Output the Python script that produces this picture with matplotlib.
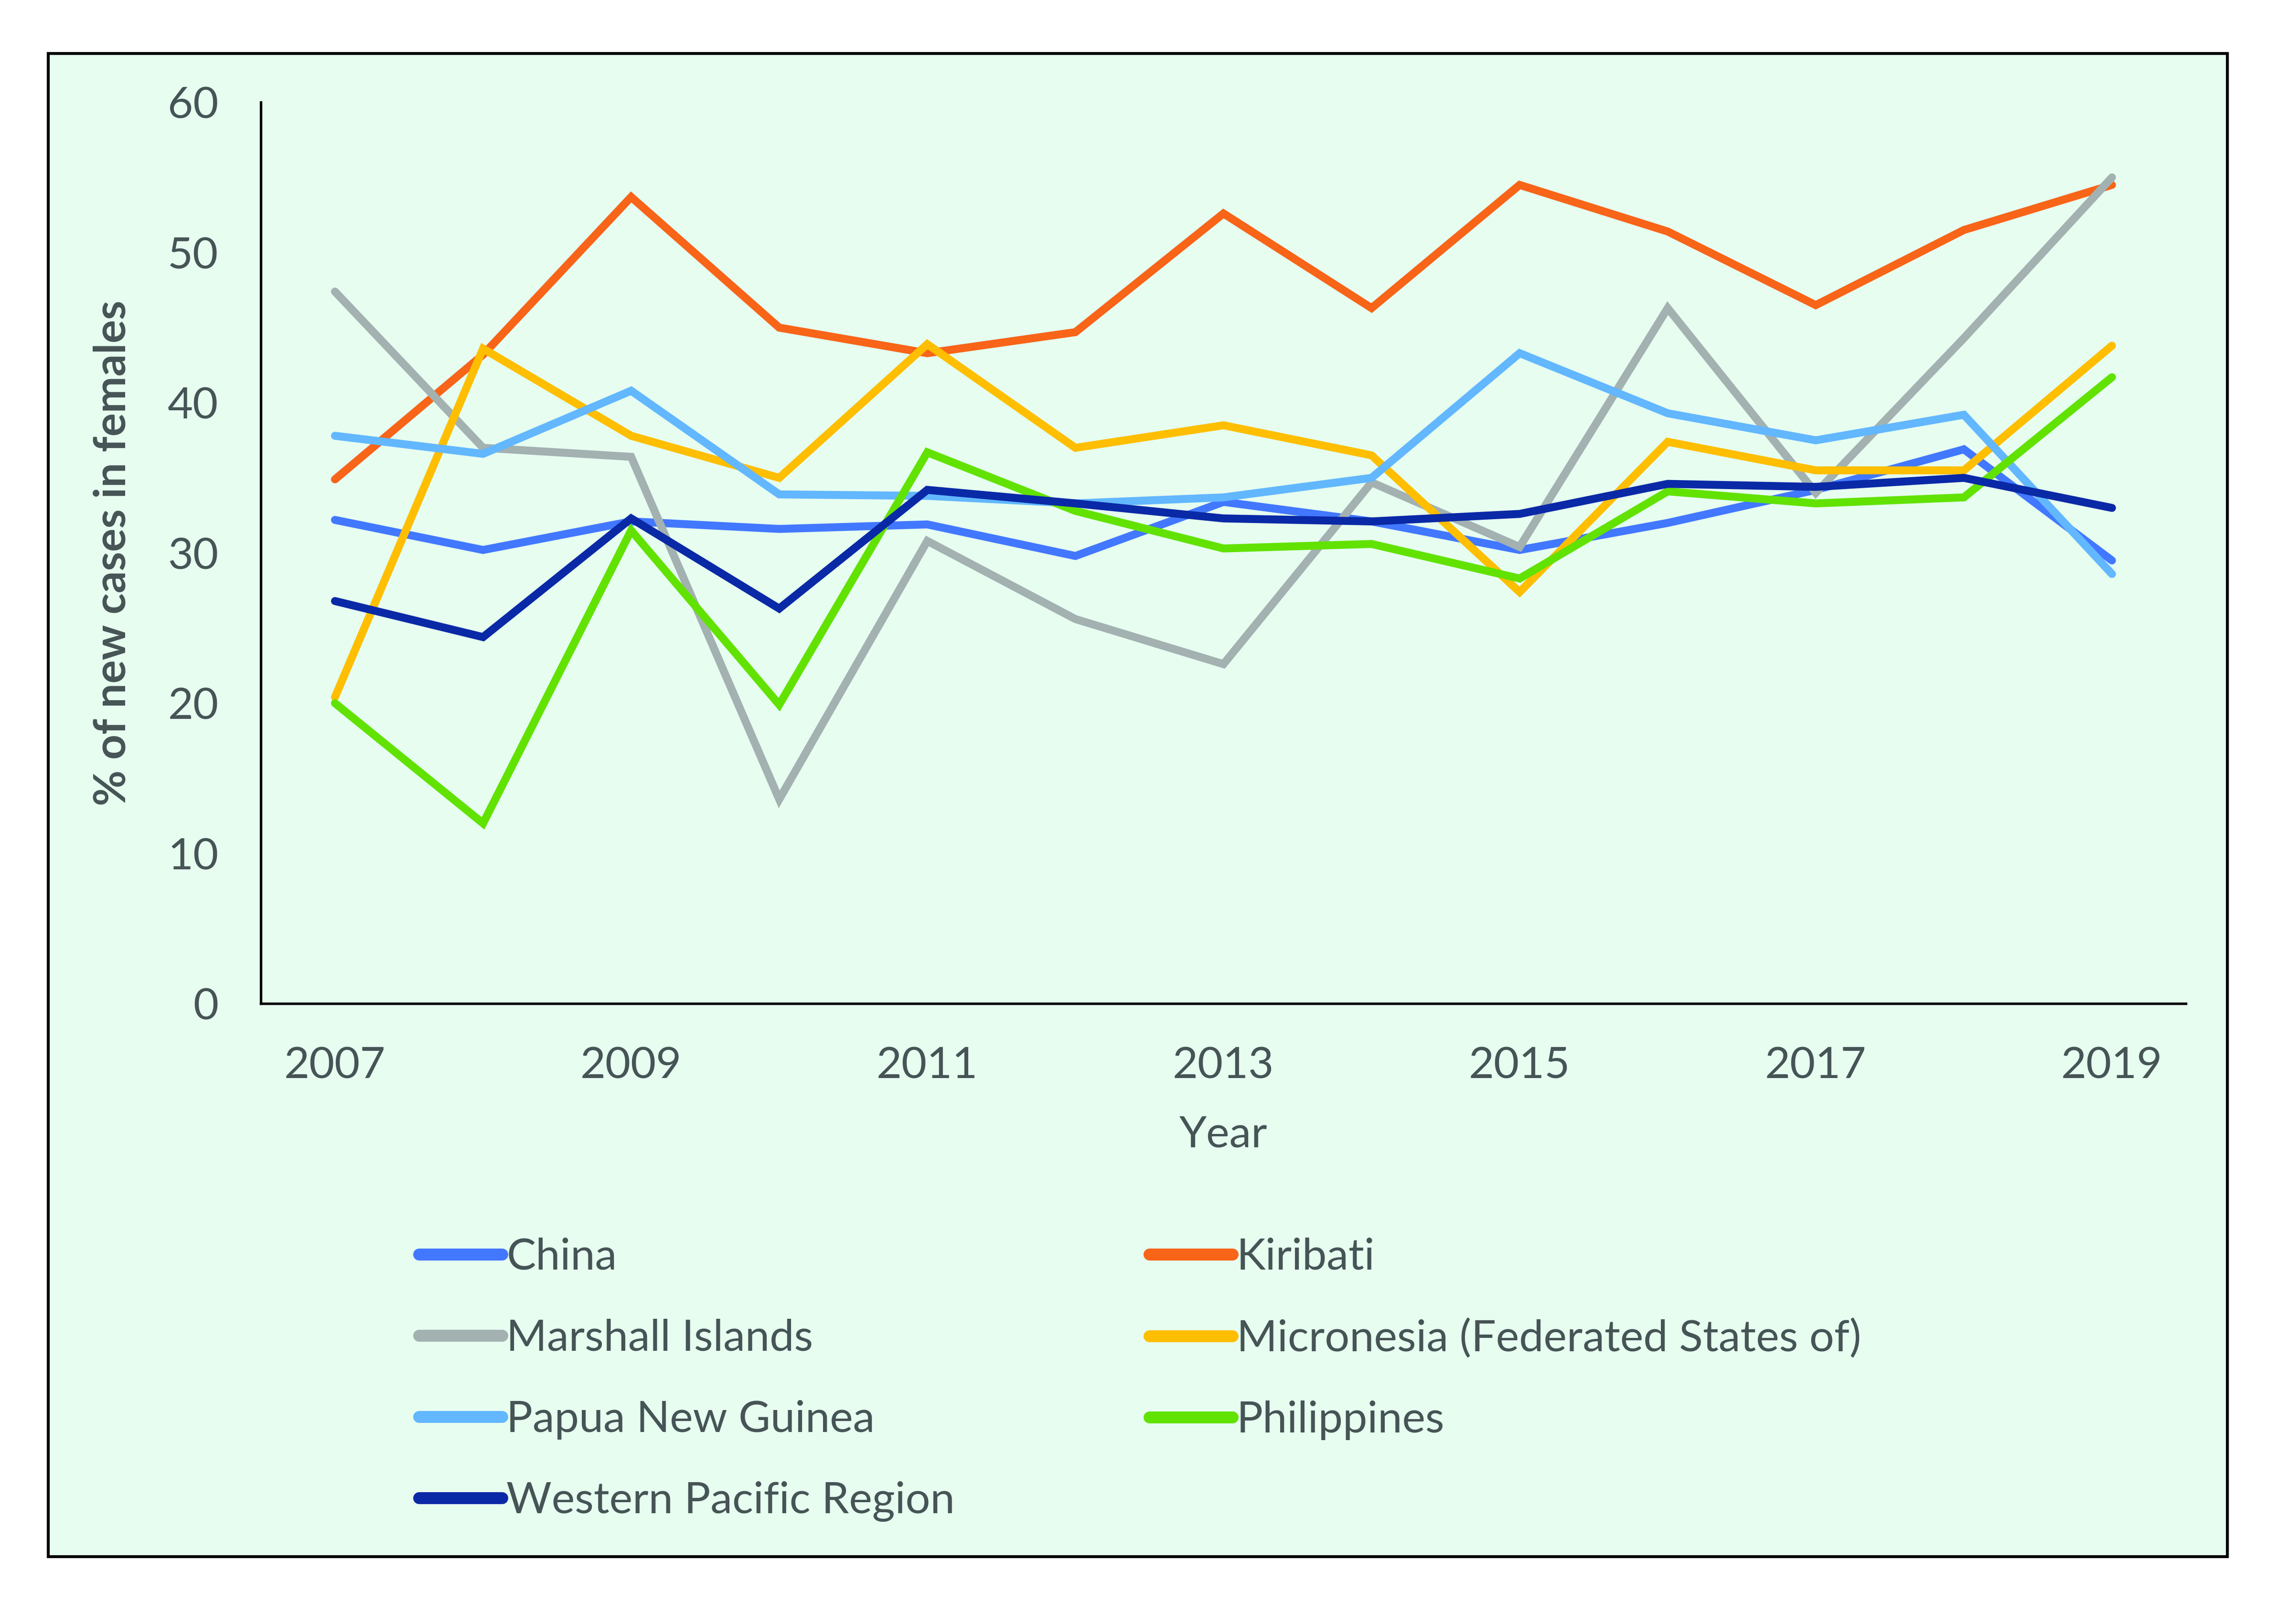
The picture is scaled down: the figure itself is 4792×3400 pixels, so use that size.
import matplotlib
matplotlib.use("Agg")
import matplotlib.pyplot as plt
from matplotlib.patches import Rectangle

plt.rcParams['font.family'] = ['Lato', 'DejaVu Sans']

years = list(range(2007, 2020))

china = [32.2, 30.2, 32.1, 31.6, 31.9, 29.8, 33.4, 32.1, 30.2, 32.0, 34.2, 36.9, 29.5]
kiribati = [34.9, 43.2, 53.7, 45.0, 43.3, 44.7, 52.6, 46.3, 54.5, 51.4, 46.5, 51.5, 54.5]
marshall = [47.4, 37.0, 36.4, 13.6, 30.8, 25.6, 22.6, 34.7, 30.4, 46.3, 34.0, 44.3, 55.0]
micronesia = [20.4, 43.6, 37.8, 35.0, 43.9, 37.0, 38.5, 36.5, 27.4, 37.4, 35.5, 35.5, 43.8]
png = [37.8, 36.6, 40.8, 33.9, 33.8, 33.3, 33.7, 35.0, 43.3, 39.3, 37.5, 39.2, 28.6]
philippines = [20.0, 12.0, 31.5, 19.9, 36.7, 32.8, 30.3, 30.6, 28.3, 34.1, 33.3, 33.7, 41.7]
wpr = [26.8, 24.4, 32.3, 26.3, 34.2, 33.3, 32.3, 32.1, 32.6, 34.6, 34.4, 35.0, 33.0]

series = [
    ("China", china, "#4278FF"),
    ("Kiribati", kiribati, "#F86418"),
    ("Marshall Islands", marshall, "#A3B1B1"),
    ("Micronesia (Federated States of)", micronesia, "#FFBE00"),
    ("Papua New Guinea", png, "#62B7FF"),
    ("Philippines", philippines, "#62E200"),
    ("Western Pacific Region", wpr, "#0A29A6"),
]

bg = "#E6FDF0"
txt = "#465455"
fs = 16.5

fig = plt.figure(figsize=(11.98, 8.5), dpi=400)
fig.patch.set_facecolor("white")
# framed background behind everything
frame = Rectangle((0.021, 0.0415), 0.952, 0.9255, transform=fig.transFigure,
                  facecolor=bg, edgecolor="black", linewidth=1.1, zorder=-10)
fig.patches.append(frame)

ax = fig.add_axes([0.114, 0.382, 0.841, 0.555])
ax.patch.set_visible(False)

lines = {}
for name, vals, col in series:
    ln, = ax.plot(years, vals, color=col, lw=3.0, label=name, solid_capstyle="round",
                  solid_joinstyle="miter")
    lines[name] = ln

ax.set_xlim(2006.5, 2019.5)
ax.set_ylim(0, 60)
ax.set_xticks(range(2007, 2020, 2))
ax.set_yticks(range(0, 61, 10))
ax.tick_params(length=0, labelsize=fs, labelcolor=txt)
ax.tick_params(axis='y', pad=16)
ax.tick_params(axis='x', pad=16)
for s in ["top", "right"]:
    ax.spines[s].set_visible(False)
for s in ["left", "bottom"]:
    ax.spines[s].set_linewidth(0.95)
    ax.spines[s].set_color("black")

ax.set_xlabel("Year", fontsize=fs, color=txt, labelpad=11)
ax.set_ylabel("% of new cases in females", fontsize=fs, color=txt, fontweight="bold", labelpad=13)

col1 = ["China", "Marshall Islands", "Papua New Guinea", "Western Pacific Region"]
col2 = ["Kiribati", "Micronesia (Federated States of)", "Philippines"]
common = dict(frameon=False, fontsize=fs, handlelength=1.9, handletextpad=0.1,
              labelspacing=0.95, labelcolor=txt, loc="upper left", borderaxespad=0,
              borderpad=0)
leg1 = fig.legend([lines[n] for n in col1], col1, bbox_to_anchor=(0.183, 0.238), **common)
leg2 = fig.legend([lines[n] for n in col2], col2, bbox_to_anchor=(0.502, 0.238), **common)
for lg in (leg1, leg2):
    for h in lg.legend_handles:
        h.set_linewidth(4.5)

fig.savefig("out.png", dpi=400, facecolor="white")
